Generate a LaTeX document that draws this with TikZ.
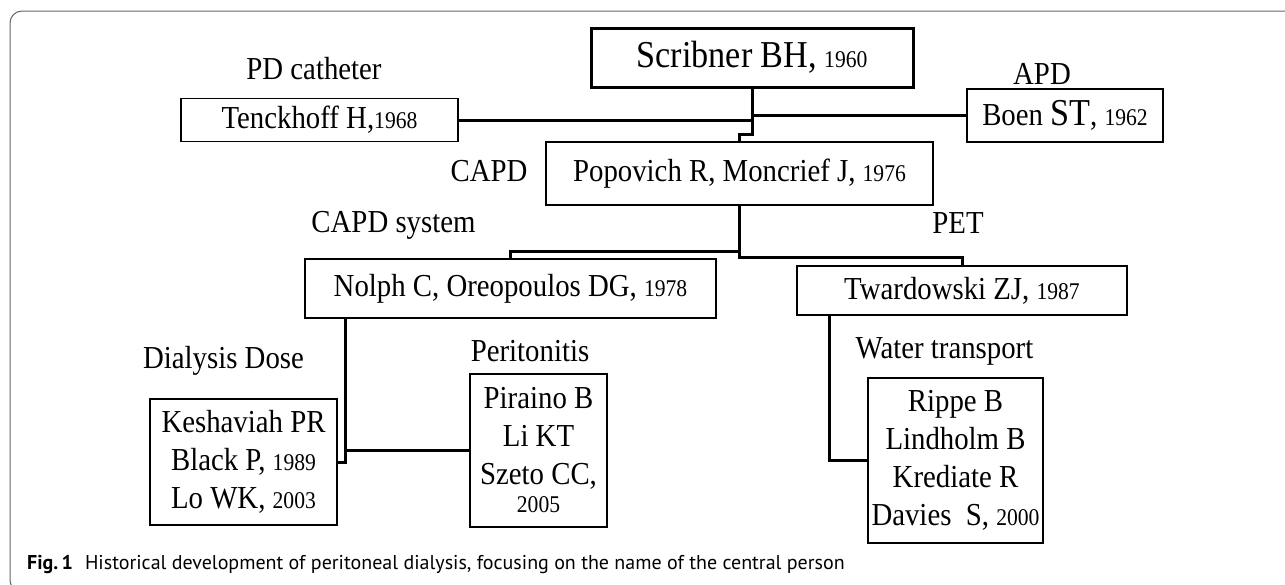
\documentclass[tikz,border=0pt]{standalone}
\usepackage{fontspec}
\setmainfont{Liberation Serif}[FakeStretch=0.9]
\newfontfamily\capfont{PT Sans}
\newcommand\namefont{\fontsize{32}{38}\selectfont}
\newcommand\yr[1]{{\fontsize{24}{26}\selectfont #1}}
\newcommand\bigname[1]{{\fontsize{38}{40}\selectfont #1}}
\begin{document}
\begin{tikzpicture}[x=1pt,y=-1pt,
  box/.style={draw=black,line width=1.1pt,inner sep=0pt,align=center,font=\namefont},
  lbl/.style={inner sep=0pt,font=\namefont},
  conn/.style={line width=3pt,line join=miter},
  frame/.style={draw=black!60,line width=1pt,rounded corners=12pt}]
\useasboundingbox (0,0) rectangle (1285,584);
\clip (0,0) rectangle (1285,584);
\fill[white] (0,0) rectangle (1285,584);
\draw[frame] (1300,11) -- (10,11) -- (10,592) -- (1300,592);

% boxes
\node[box,line width=3pt,minimum width=322pt,minimum height=59pt] (scr) at (752,57.5) {\bigname{Scribner BH,} \yr{1960}};
\node[box,minimum width=277pt,minimum height=42.5pt] (ten) at (319.5,120) {Tenckhoff H,\yr{1968}};
\node[box,minimum width=196pt,minimum height=53pt] (boen) at (1065,115.5) {Boen \bigname{ST}, \yr{1962}};
\node[box,minimum width=387pt,minimum height=63pt] (pop) at (739.5,173.5) {Popovich R, Moncrief J, \yr{1976}};
\node[box,minimum width=411pt,minimum height=59pt] (nol) at (510.5,288.5) {Nolph C, Oreopoulos DG, \yr{1978}};
\node[box,minimum width=330pt,minimum height=49pt] (tw) at (962,290.5) {Twardowski ZJ, \yr{1987}};
\node[box,minimum width=187pt,minimum height=126pt] (kes) at (243.5,462) {Keshaviah PR\\Black P, \yr{1989}\\Lo WK, \yr{2003}};
\node[box,minimum width=137pt,minimum height=153pt] (pir) at (538.5,450.5) {Piraino B\\Li KT\\Szeto CC,\\[-10pt]\yr{2005}};
\node[box,minimum width=175pt,minimum height=165pt] (rip) at (955.5,460.5) {Rippe B\\Lindholm B\\Krediate R\\Davies\ \ S, \yr{2000}};

% labels
\node[lbl] (lpd) at (314,69) {PD catheter};
\node[lbl] (lapd) at (1042,74) {APD};
\node[lbl] (lcapd) at (489,171) {CAPD};
\node[lbl] (lsys) at (393.5,225) {CAPD system};
\node[lbl] (lpet) at (958,223) {PET};
\node[lbl] (ldose) at (223.5,361) {Dialysis Dose};
\node[lbl] (lper) at (530,351) {Peritonitis};
\node[lbl] (lwat) at (944.5,351) {Water transport};

% connectors
\draw[conn] (scr.south) -- (scr.south |- boen.west) -- (boen.west);
\draw[conn] (ten.east) -- (ten.east -| scr.south);
\draw[conn] (scr.south) -- ++(0,46) -| (pop.north);
\draw[conn] (pop.south) -- ++(0,46) -| (nol.north);
\draw[conn] (pop.south) -- ++(0,52) -| (tw.north);
\coordinate (nb) at ([xshift=41pt]nol.south west);
\draw[conn] (nb) |- (kes.east);
\draw[conn] (nb |- pir.west) -- (pir.west);
\coordinate (tb) at ([xshift=33pt]tw.south west);
\draw[conn] (tb) |- (rip.west);

% caption
\node[anchor=west,inner sep=0pt,font=\capfont\fontsize{20}{24}\selectfont] (cap) at (27,564)
  {\textbf{Fig.\,1}\hspace{12pt}Historical development of peritoneal dialysis, focusing on the name of the central person};
\end{tikzpicture}
\end{document}
